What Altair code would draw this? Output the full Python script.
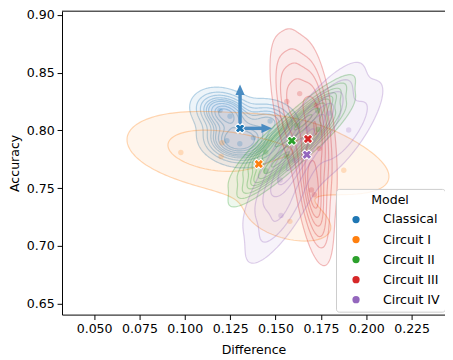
import numpy as np
import pandas as pd
import altair as alt

# ---------------- data ----------------
models = ["Classical", "Circuit I", "Circuit II", "Circuit III", "Circuit IV"]
colors = ["#1f77b4", "#ff7f0e", "#2ca02c", "#d62728", "#9467bd"]

classical_diff = [0.1194, 0.1232, 0.1303, 0.1378, 0.1470, 0.1249]
classical_acc = [0.8173, 0.7910, 0.7884, 0.7935, 0.8080, 0.8122]
circuit1_diff = [0.0978, 0.1579, 0.1205, 0.1606, 0.1876, 0.1200]
circuit1_acc = [0.7808, 0.7213, 0.7893, 0.7910, 0.7655, 0.7774]
circuit2_diff = [0.1447, 0.1446, 0.1562, 0.1617, 0.1734, 0.1732]
circuit2_acc = [0.7650, 0.7812, 0.7776, 0.8044, 0.8007, 0.8170]
circuit3_diff = [0.1562, 0.1725, 0.1698, 0.1633, 0.1741, 0.1714]
circuit3_acc = [0.8250, 0.8216, 0.7485, 0.8318, 0.7842, 0.7443]
circuit4_diff = [0.1903, 0.1530, 0.1795, 0.1606, 0.1525, 0.1676]
circuit4_acc = [0.8003, 0.7264, 0.8148, 0.7740, 0.7570, 0.8012]

arrow_dx = [0.0176, 0.0]
arrow_dy = [0.0, 0.0380]

x_ticks = [0.050, 0.075, 0.100, 0.125, 0.150, 0.175, 0.200, 0.225]
y_ticks = [0.65, 0.70, 0.75, 0.80, 0.85, 0.90]
x_domain = [0.0323, 0.2434]
y_domain = [0.6406, 0.9031]

diffs = [classical_diff, circuit1_diff, circuit2_diff, circuit3_diff, circuit4_diff]
accs = [classical_acc, circuit1_acc, circuit2_acc, circuit3_acc, circuit4_acc]

points = pd.concat(
    [pd.DataFrame({"model": m, "x": d, "y": a}) for m, d, a in zip(models, diffs, accs)],
    ignore_index=True,
)
means = points.groupby("model", sort=False)[["x", "y"]].mean().reset_index()


# ---------------- bivariate KDE (seaborn-like) ----------------
def kde_grid(x, y, gridsize=200, cut=3):
    x = np.asarray(x); y = np.asarray(y)
    data = np.vstack([x, y])
    n = data.shape[1]
    factor = n ** (-1.0 / 6.0)
    cov = np.cov(data) * factor ** 2
    inv = np.linalg.inv(cov)
    norm = 1.0 / (2 * np.pi * np.sqrt(np.linalg.det(cov)) * n)
    bw = np.sqrt(np.diag(cov))
    xs = np.linspace(x.min() - cut * bw[0], x.max() + cut * bw[0], gridsize)
    ys = np.linspace(y.min() - cut * bw[1], y.max() + cut * bw[1], gridsize)
    X, Y = np.meshgrid(xs, ys)
    Z = np.zeros_like(X)
    for xi, yi in zip(x, y):
        dx = X - xi; dy = Y - yi
        q = inv[0, 0] * dx * dx + 2 * inv[0, 1] * dx * dy + inv[1, 1] * dy * dy
        Z += np.exp(-0.5 * q)
    return xs, ys, Z * norm / len(models)


def quantile_to_level(values, iso):
    values = np.ravel(values)
    sv = np.sort(values)[::-1]
    nv = np.cumsum(sv) / values.sum()
    idx = np.searchsorted(nv, 1 - np.asarray(iso))
    return np.take(sv, idx, mode="clip")


def rings_at(xs, ys, Z, t):
    B = Z > t
    c = (B[:-1, :-1].astype(int) + 2 * B[:-1, 1:] + 4 * B[1:, 1:] + 8 * B[1:, :-1])
    cells = np.argwhere((c > 0) & (c < 15))
    adj = {}

    def link(a, b):
        adj.setdefault(a, []).append(b)
        adj.setdefault(b, []).append(a)

    cadj = {0: (0, 3), 1: (0, 1), 2: (1, 2), 3: (2, 3)}
    pairs = [(0, 1), (1, 2), (2, 3), (3, 0)]
    for j, i in cells:
        j = int(j); i = int(i)
        k = int(c[j, i])
        ins = [bool(k & 1), bool(k & 2), bool(k & 4), bool(k & 8)]
        E = [("h", j, i), ("v", j, i + 1), ("h", j + 1, i), ("v", j, i)]
        crossed = [e for e, (p, q) in enumerate(pairs) if ins[p] != ins[q]]
        if len(crossed) == 2:
            link(E[crossed[0]], E[crossed[1]])
        else:
            center = Z[j:j + 2, i:i + 2].mean() > t
            for q in range(4):
                if ins[q] != center:
                    a, b = cadj[q]
                    link(E[a], E[b])

    def pos(e):
        kind, j, i = e
        if kind == "h":
            z0, z1 = Z[j, i], Z[j, i + 1]
            f = (t - z0) / (z1 - z0)
            return xs[i] + f * (xs[i + 1] - xs[i]), ys[j]
        z0, z1 = Z[j, i], Z[j + 1, i]
        f = (t - z0) / (z1 - z0)
        return xs[i], ys[j] + f * (ys[j + 1] - ys[j])

    rings = []
    visited = set()
    for start in adj:
        if start in visited:
            continue
        ring = [start]; visited.add(start)
        prev, cur = None, start
        while True:
            nb = adj[cur]
            cand = [e for e in nb if e != prev]
            if not cand:
                break
            nxt = cand[0]
            if nxt == start or nxt in visited:
                break
            ring.append(nxt); visited.add(nxt)
            prev, cur = cur, nxt
        if len(ring) >= 4:
            rings.append([pos(e) for e in ring])
    return rings


grids = {m: kde_grid(d, a) for m, d, a in zip(models, diffs, accs)}
levels = quantile_to_level(np.concatenate([g[2].ravel() for g in grids.values()]),
                           np.linspace(0.05, 1, 10))

rows = []
for m in models:
    xs, ys, Z = grids[m]
    for li, t in enumerate(levels[:-1]):
        for ri, ring in enumerate(rings_at(xs, ys, Z, t)):
            ring = ring[::2] + [ring[0]]
            rid = f"{m}|{li}|{ri}"
            fo = 0.08 if li == 0 else 0.02
            for k, (px, py) in enumerate(ring):
                rows.append((m, rid, k, round(float(px), 5), round(float(py), 5), fo))
contours = pd.DataFrame(rows, columns=["model", "ring", "idx", "x", "y", "fo"])

# arrows from the Classical mean
cm = means[means.model == "Classical"].iloc[0]
arrows = pd.DataFrame({
    "x": [cm.x] * 2, "y": [cm.y] * 2,
    "xe": [cm.x + dx for dx in arrow_dx], "ye": [cm.y + dy for dy in arrow_dy],
    "ang": [90, 0],
})
arrows["xs2"] = arrows.x + 0.8 * (arrows.xe - arrows.x)
arrows["ys2"] = arrows.y + 0.8 * (arrows.ye - arrows.y)

# ---------------- chart ----------------
FONT = "DejaVu Sans"
FS = 12.8
xscale = alt.Scale(domain=x_domain, nice=False, zero=False)
yscale = alt.Scale(domain=y_domain, nice=False, zero=False)
xaxis = alt.Axis(values=x_ticks, format=".3f", title="Difference", titlePadding=9)
yaxis = alt.Axis(values=y_ticks, format=".2f", title="Accuracy", titlePadding=5)
X = alt.X("x:Q", scale=xscale, axis=xaxis)
Y = alt.Y("y:Q", scale=yscale, axis=yaxis)

layers = []
for m, col in zip(models, colors):
    layers.append(
        alt.Chart(contours).transform_filter(alt.datum.model == m)
        .mark_line(stroke=col, fill=col, strokeWidth=1.2, strokeOpacity=0.3, clip=True)
        .encode(x=X, y=Y, detail="ring:N", order="idx:Q",
                fillOpacity=alt.FillOpacity("fo:Q", scale=None))
    )

for m, col in zip(models, colors):
    layers.append(
        alt.Chart(points).transform_filter(alt.datum.model == m)
        .mark_circle(size=30, opacity=0.22, color=col)
        .encode(x=X, y=Y)
    )

arrow_col = "#4a8cc2"
layers.append(
    alt.Chart(arrows).mark_rule(color=arrow_col, strokeWidth=3.5)
    .encode(x=X, y=Y, x2="xs2:Q", y2="ys2:Q")
)
layers.append(
    alt.Chart(arrows).mark_point(shape="M0,0L0.9,2.07L-0.9,2.07Z", filled=True, size=107,
                                 color=arrow_col, opacity=1)
    .encode(x=alt.X("xe:Q", scale=xscale, axis=xaxis), y=alt.Y("ye:Q", scale=yscale, axis=yaxis),
            angle=alt.Angle("ang:Q", scale=None))
)
cscale = alt.Scale(domain=models, range=colors)
layers.append(
    alt.Chart(means).mark_point(shape="cross", angle=45, filled=True, size=100,
                                stroke="white", strokeWidth=1, opacity=1)
    .encode(x=X, y=Y,
            color=alt.Color("model:N", scale=cscale, sort=models,
                            legend=alt.Legend(title="Model", orient="none", legendX=279, legendY=181,
                                              symbolType="circle", symbolSize=54, symbolStrokeWidth=0,
                                              symbolOpacity=1, padding=5,
                                              fillColor="rgba(255,255,255,0.8)", strokeColor="#cccccc",
                                              cornerRadius=3, rowPadding=6.4, titlePadding=7,
                                              symbolOffset=9, labelOffset=21,
                                              titleAnchor="middle", titleAlign="center")))
)
layers.append(
    alt.Chart(pd.DataFrame({"a": [0]})).mark_rule(color="black", strokeWidth=1)
    .encode(x=alt.value(0), x2=alt.value(390), y=alt.value(0))
)

chart = (
    alt.layer(*layers)
    .properties(width=390, height=309, autosize="none",
                padding={"left": 55, "top": 0, "right": 0, "bottom": 44})
    .configure(font=FONT)
    .configure_view(stroke=None)
    .configure_axis(grid=False, domainColor="black", domainWidth=1, tickColor="black",
                    tickWidth=1, tickSize=5, labelPadding=3, labelFont=FONT, labelFontSize=FS,
                    labelColor="black", titleFont=FONT, titleFontSize=FS, titleFontWeight="normal",
                    titleColor="black")
    .configure_legend(labelFont=FONT, labelFontSize=FS, titleFont=FONT, titleFontSize=FS,
                      titleFontWeight="normal", labelColor="black", titleColor="black")
)

chart.save("out.html", embed_options={"renderer": "svg", "actions": False})
